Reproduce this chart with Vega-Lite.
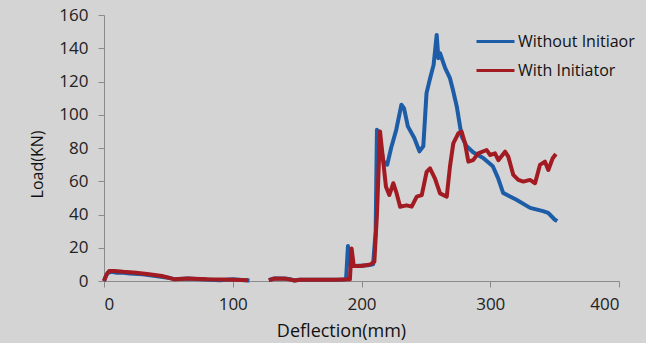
{
  "$schema": "https://vega.github.io/schema/vega-lite/v6.json",
  "width": 515,
  "height": 266,
  "autosize": {"type": "none"},
  "padding": {"left": 104, "top": 15, "right": 27, "bottom": 62},
  "background": "#d4d4d4",
  "config": {
    "view": {"stroke": null},
    "font": "Open Sans",
    "axis": {
      "grid": false,
      "domainColor": "#8a8a8a",
      "tickColor": "#8a8a8a",
      "tickSize": 6,
      "labelFont": "Open Sans",
      "labelFontSize": 17,
      "labelColor": "#222222",
      "titleFont": "Open Sans",
      "titleFontWeight": "normal",
      "titleColor": "#111111"
    }
  },
  "datasets": {
    "curves": [
      {"series": "Without Initiaor", "x": 0, "y": 0},
      {"series": "Without Initiaor", "x": 1.5, "y": 3},
      {"series": "Without Initiaor", "x": 3, "y": 5},
      {"series": "Without Initiaor", "x": 6, "y": 5.5},
      {"series": "Without Initiaor", "x": 10, "y": 5},
      {"series": "Without Initiaor", "x": 15, "y": 5},
      {"series": "Without Initiaor", "x": 20, "y": 4.5},
      {"series": "Without Initiaor", "x": 30, "y": 4},
      {"series": "Without Initiaor", "x": 40, "y": 3},
      {"series": "Without Initiaor", "x": 50, "y": 2},
      {"series": "Without Initiaor", "x": 55, "y": 1},
      {"series": "Without Initiaor", "x": 65, "y": 1.5},
      {"series": "Without Initiaor", "x": 75, "y": 1},
      {"series": "Without Initiaor", "x": 90, "y": 0.5},
      {"series": "Without Initiaor", "x": 100, "y": 1},
      {"series": "Without Initiaor", "x": 110, "y": 0.5},
      {"series": "Without Initiaor", "x": 113, "y": 0.3},
      {"series": "Without Initiaor", "x": 120, "y": null},
      {"series": "Without Initiaor", "x": 128, "y": 0.5},
      {"series": "Without Initiaor", "x": 132, "y": 1.5},
      {"series": "Without Initiaor", "x": 140, "y": 1.5},
      {"series": "Without Initiaor", "x": 145, "y": 1},
      {"series": "Without Initiaor", "x": 148, "y": 0.3},
      {"series": "Without Initiaor", "x": 152, "y": 0.8},
      {"series": "Without Initiaor", "x": 170, "y": 0.8},
      {"series": "Without Initiaor", "x": 185, "y": 0.8},
      {"series": "Without Initiaor", "x": 188, "y": 1},
      {"series": "Without Initiaor", "x": 189.5, "y": 21},
      {"series": "Without Initiaor", "x": 191, "y": 10},
      {"series": "Without Initiaor", "x": 195, "y": 9},
      {"series": "Without Initiaor", "x": 205, "y": 9.5},
      {"series": "Without Initiaor", "x": 209, "y": 10},
      {"series": "Without Initiaor", "x": 211, "y": 30},
      {"series": "Without Initiaor", "x": 212, "y": 91},
      {"series": "Without Initiaor", "x": 214, "y": 85},
      {"series": "Without Initiaor", "x": 217, "y": 72},
      {"series": "Without Initiaor", "x": 220, "y": 70},
      {"series": "Without Initiaor", "x": 223, "y": 80},
      {"series": "Without Initiaor", "x": 227, "y": 91},
      {"series": "Without Initiaor", "x": 231, "y": 106},
      {"series": "Without Initiaor", "x": 233, "y": 104},
      {"series": "Without Initiaor", "x": 236, "y": 93},
      {"series": "Without Initiaor", "x": 241, "y": 86},
      {"series": "Without Initiaor", "x": 245, "y": 78},
      {"series": "Without Initiaor", "x": 248, "y": 81},
      {"series": "Without Initiaor", "x": 250.5, "y": 113},
      {"series": "Without Initiaor", "x": 253, "y": 121},
      {"series": "Without Initiaor", "x": 256, "y": 130},
      {"series": "Without Initiaor", "x": 258.4, "y": 148},
      {"series": "Without Initiaor", "x": 259.7, "y": 134},
      {"series": "Without Initiaor", "x": 261, "y": 137},
      {"series": "Without Initiaor", "x": 265, "y": 128},
      {"series": "Without Initiaor", "x": 268.7, "y": 122},
      {"series": "Without Initiaor", "x": 271, "y": 115},
      {"series": "Without Initiaor", "x": 274, "y": 105},
      {"series": "Without Initiaor", "x": 277.8, "y": 87},
      {"series": "Without Initiaor", "x": 281.7, "y": 81},
      {"series": "Without Initiaor", "x": 286.7, "y": 77.5},
      {"series": "Without Initiaor", "x": 294.5, "y": 74},
      {"series": "Without Initiaor", "x": 302, "y": 69},
      {"series": "Without Initiaor", "x": 306, "y": 62},
      {"series": "Without Initiaor", "x": 310, "y": 53},
      {"series": "Without Initiaor", "x": 320, "y": 49},
      {"series": "Without Initiaor", "x": 331, "y": 44},
      {"series": "Without Initiaor", "x": 341, "y": 42},
      {"series": "Without Initiaor", "x": 345, "y": 41},
      {"series": "Without Initiaor", "x": 350, "y": 37},
      {"series": "Without Initiaor", "x": 352, "y": 36},
      {"series": "With Initiator", "x": 0, "y": 0},
      {"series": "With Initiator", "x": 2, "y": 4},
      {"series": "With Initiator", "x": 4, "y": 6},
      {"series": "With Initiator", "x": 8, "y": 6},
      {"series": "With Initiator", "x": 15, "y": 5.5},
      {"series": "With Initiator", "x": 25, "y": 5},
      {"series": "With Initiator", "x": 35, "y": 4},
      {"series": "With Initiator", "x": 45, "y": 3},
      {"series": "With Initiator", "x": 55, "y": 1},
      {"series": "With Initiator", "x": 65, "y": 1.5},
      {"series": "With Initiator", "x": 80, "y": 1},
      {"series": "With Initiator", "x": 100, "y": 0.7},
      {"series": "With Initiator", "x": 112, "y": 0.5},
      {"series": "With Initiator", "x": 120, "y": null},
      {"series": "With Initiator", "x": 128, "y": 0.5},
      {"series": "With Initiator", "x": 133, "y": 1.5},
      {"series": "With Initiator", "x": 142, "y": 1.3},
      {"series": "With Initiator", "x": 148, "y": 0.3},
      {"series": "With Initiator", "x": 152, "y": 0.8},
      {"series": "With Initiator", "x": 180, "y": 0.8},
      {"series": "With Initiator", "x": 191, "y": 1},
      {"series": "With Initiator", "x": 192.3, "y": 19.6},
      {"series": "With Initiator", "x": 194, "y": 9},
      {"series": "With Initiator", "x": 200, "y": 9},
      {"series": "With Initiator", "x": 207, "y": 10},
      {"series": "With Initiator", "x": 210, "y": 11.6},
      {"series": "With Initiator", "x": 212, "y": 40},
      {"series": "With Initiator", "x": 214.4, "y": 90},
      {"series": "With Initiator", "x": 217, "y": 71},
      {"series": "With Initiator", "x": 219, "y": 56.7},
      {"series": "With Initiator", "x": 221.6, "y": 51.7},
      {"series": "With Initiator", "x": 224.7, "y": 58.8},
      {"series": "With Initiator", "x": 227.3, "y": 52.7},
      {"series": "With Initiator", "x": 230, "y": 44.7},
      {"series": "With Initiator", "x": 235, "y": 45.5},
      {"series": "With Initiator", "x": 239, "y": 44.7},
      {"series": "With Initiator", "x": 242.9, "y": 50.7},
      {"series": "With Initiator", "x": 246.8, "y": 51.7},
      {"series": "With Initiator", "x": 250.6, "y": 65.7},
      {"series": "With Initiator", "x": 253.2, "y": 67.8},
      {"series": "With Initiator", "x": 257, "y": 61.8},
      {"series": "With Initiator", "x": 261, "y": 52.7},
      {"series": "With Initiator", "x": 266.2, "y": 50.7},
      {"series": "With Initiator", "x": 268.7, "y": 68.8},
      {"series": "With Initiator", "x": 271.3, "y": 82.8},
      {"series": "With Initiator", "x": 275.2, "y": 88.8},
      {"series": "With Initiator", "x": 277.8, "y": 89.8},
      {"series": "With Initiator", "x": 280.4, "y": 82.8},
      {"series": "With Initiator", "x": 283, "y": 71.8},
      {"series": "With Initiator", "x": 286.7, "y": 72.7},
      {"series": "With Initiator", "x": 290.7, "y": 76.8},
      {"series": "With Initiator", "x": 297.2, "y": 78.8},
      {"series": "With Initiator", "x": 299.8, "y": 75.8},
      {"series": "With Initiator", "x": 303.7, "y": 76.8},
      {"series": "With Initiator", "x": 306.3, "y": 72.7},
      {"series": "With Initiator", "x": 311.5, "y": 77.8},
      {"series": "With Initiator", "x": 314, "y": 74.8},
      {"series": "With Initiator", "x": 317.9, "y": 63.8},
      {"series": "With Initiator", "x": 321.8, "y": 60.8},
      {"series": "With Initiator", "x": 325.7, "y": 59.8},
      {"series": "With Initiator", "x": 330.9, "y": 60.8},
      {"series": "With Initiator", "x": 334.8, "y": 58.8},
      {"series": "With Initiator", "x": 338.6, "y": 69.8},
      {"series": "With Initiator", "x": 342.5, "y": 71.8},
      {"series": "With Initiator", "x": 345.1, "y": 66.8},
      {"series": "With Initiator", "x": 348.5, "y": 73.8},
      {"series": "With Initiator", "x": 351, "y": 76.4}
    ]
  },
  "data": {"name": "curves"},
  "encoding": {
    "x": {
      "field": "x",
      "type": "quantitative",
      "scale": {"domain": [0, 400], "nice": false},
      "axis": {
        "title": "Deflection(mm)",
        "values": [0, 100, 200, 300, 400],
        "labelPadding": 9,
        "titleFontSize": 18,
        "titleX": 237,
        "titleY": 55,
        "titleBaseline": "alphabetic",
        "titleAnchor": null
      }
    },
    "y": {
      "field": "y",
      "type": "quantitative",
      "scale": {"domain": [0, 160], "nice": false},
      "axis": {
        "title": "Load(KN)",
        "values": [0, 20, 40, 60, 80, 100, 120, 140, 160],
        "labelPadding": 10,
        "titleFontSize": 16,
        "titleX": -67,
        "titleY": 149,
        "titleAngle": -90,
        "titleBaseline": "middle",
        "titleAlign": "center"
      }
    },
    "color": {
      "field": "series",
      "type": "nominal",
      "scale": {
        "domain": ["Without Initiaor", "With Initiator"],
        "range": ["#1d5ca6", "#a31b22"]
      },
      "legend": {
        "title": null,
        "orient": "none",
        "legendX": 371,
        "legendY": 12,
        "symbolType": "stroke",
        "symbolSize": 1444,
        "symbolStrokeWidth": 3,
        "clipHeight": 29,
        "rowPadding": 0,
        "labelOffset": 2,
        "labelFont": "Open Sans",
        "labelFontSize": 16,
        "labelColor": "#111111",
        "labelLimit": 300,
        "padding": 0
      }
    }
  },
  "layer": [
    {
      "transform": [{"filter": "datum.series === 'Without Initiaor'"}],
      "mark": {"type": "line", "strokeWidth": 4, "invalid": "break-paths-show-domains", "strokeJoin": "round"}
    },
    {
      "transform": [{"filter": "datum.series === 'With Initiator'"}],
      "mark": {"type": "line", "strokeWidth": 4, "invalid": "break-paths-show-domains", "strokeJoin": "round"}
    }
  ]
}
